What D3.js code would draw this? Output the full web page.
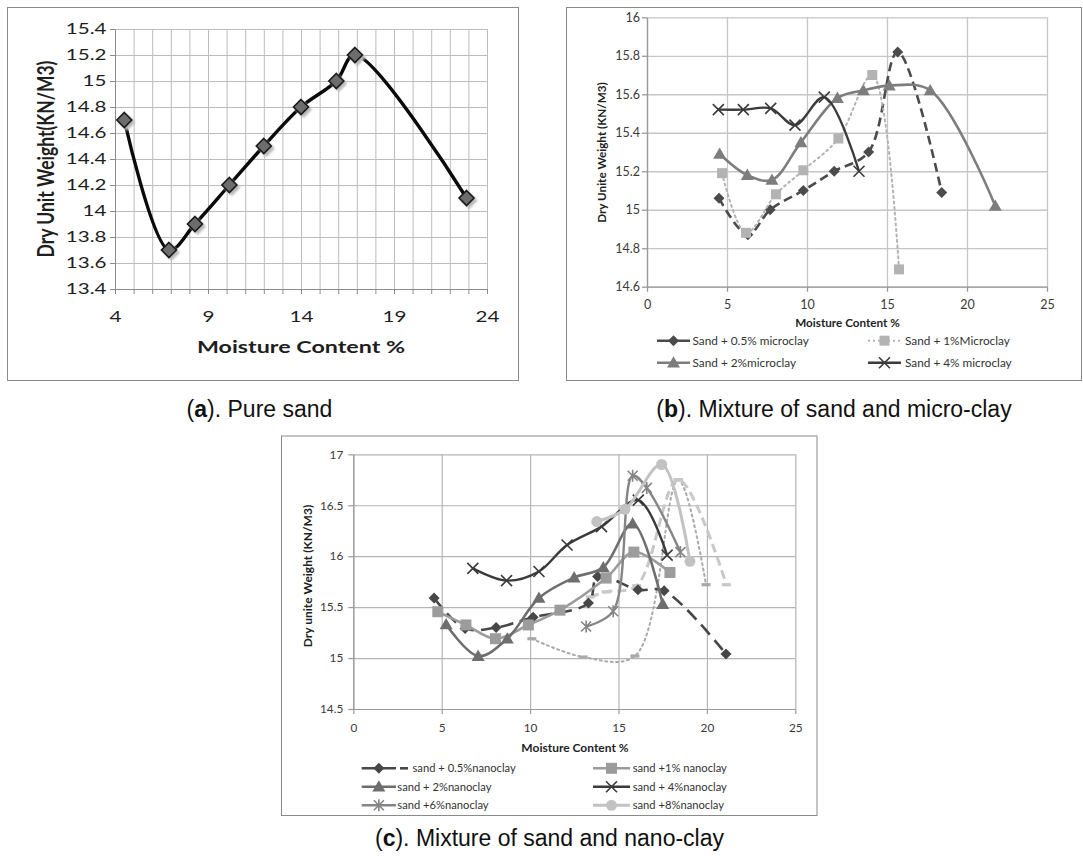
<!DOCTYPE html>
<html>
<head>
<meta charset="utf-8">
<script src="https://cdn.jsdelivr.net/npm/d3@7"></script>
<style>
body { margin: 0; background: #fff; }
text { font-family: Lato, "Open Sans", sans-serif; }
</style>
</head>
<body>
<div id="fig"></div>
<script>
// ---------- data ----------
// (a) pure sand
var pureSand = [[4.5,14.7],[6.9,13.7],[8.3,13.9],[10.15,14.2],[12,14.5],[14,14.8],[15.9,15.0],[16.9,15.2],[22.9,14.1]];
var pureXTicks = [4, 9, 14, 19, 24];
var pureYTicks = [13.4, 13.6, 13.8, 14, 14.2, 14.4, 14.6, 14.8, 15, 15.2, 15.4];

// (b) sand + micro-clay
var microLabels = ["Sand + 0.5% microclay", "Sand + 1%Microclay", "Sand + 2%microclay", "Sand + 4% microclay"];
var micro05 = [[4.5,15.06],[6.3,14.87],[7.7,15.0],[9.77,15.1],[11.7,15.2],[13.85,15.3],[15.67,15.82],[18.42,15.09]];
var micro1  = [[4.69,15.19],[6.19,14.88],[8.06,15.08],[9.77,15.205],[11.96,15.37],[14.08,15.7],[15.75,14.69]];
var micro2  = [[4.54,15.29],[6.27,15.18],[7.81,15.155],[9.62,15.35],[11.9,15.58],[13.52,15.62],[15.14,15.645],[17.7,15.62],[21.77,15.02]];
var micro4  = [[4.46,15.52],[6.02,15.52],[7.73,15.527],[9.25,15.44],[11.08,15.585],[13.25,15.2]];
var microXTicks = [0, 5, 10, 15, 20, 25];
var microYTicks = [14.6, 14.8, 15, 15.2, 15.4, 15.6, 15.8, 16];

// (c) sand + nano-clay
var nanoLabels = ["sand + 0.5%nanoclay", "sand +1% nanoclay", "sand + 2%nanoclay", "sand + 4%nanoclay", "sand +6%nanoclay", "sand +8%nanoclay"];
var nano05 = [[4.57,15.59],[6.32,15.29],[8.08,15.3],[10.17,15.4],[13.3,15.54],[13.82,15.8],[16.1,15.67],[17.58,15.66],[21.08,15.04]];
var nano1  = [[4.78,15.455],[6.37,15.325],[8.04,15.19],[9.9,15.325],[11.69,15.47],[14.3,15.785],[15.87,16.04],[17.91,15.84]];
var nano2  = [[5.25,15.33],[7.06,15.02],[8.71,15.19],[10.5,15.59],[12.49,15.79],[14.14,15.89],[15.8,16.32],[17.5,15.53]];
var nano4  = [[6.76,15.88],[8.67,15.76],[10.5,15.85],[12.09,16.11],[14.04,16.29],[16.12,16.55],[17.75,16.01]];
var nano6  = [[13.17,15.31],[14.7,15.46],[15.8,16.79],[16.6,16.67],[18.5,16.04]];
var nano8  = [[13.77,16.34],[15.37,16.46],[17.44,16.9],[19.04,15.95]];
var nanoDotted = [[10.1,15.19],[13.0,15.01],[15.93,15.02],[18.38,16.75],[19.95,15.72]];
var nanoDashed = [[13.4,15.6],[14.3,15.65],[16.03,15.71],[18.38,16.75],[21.1,15.72]];
var nanoXTicks = [0, 5, 10, 15, 20, 25];
var nanoYTicks = [14.5, 15, 15.5, 16, 16.5, 17];

var captions = [
	{bold: "a", rest: "). Pure sand", x: 259.5, y: 417},
	{bold: "b", rest: "). Mixture of sand and micro-clay", x: 834, y: 417},
	{bold: "c", rest: "). Mixture of sand and nano-clay", x: 549.5, y: 846}
];

// ---------- drawing ----------
var svg = d3.select("#fig").append("svg")
	.attr("width", 1083)
	.attr("height", 857);

var defs = svg.append("defs");
defs.append("filter").attr("id", "soft")
	.attr("x", "-50%").attr("y", "-50%").attr("width", "200%").attr("height", "200%")
	.append("feGaussianBlur").attr("stdDeviation", 1.3);

// marker shapes, s = half size
function markerPath(type, s) {
	if (type == "diamond") return "M0," + (-s) + "L" + s + ",0L0," + s + "L" + (-s) + ",0Z";
	if (type == "square") return "M" + (-s) + "," + (-s) + "h" + 2*s + "v" + 2*s + "h" + (-2*s) + "Z";
	if (type == "triangle") return "M0," + (-s) + "L" + s + "," + (s*0.75) + "L" + (-s) + "," + (s*0.75) + "Z";
	if (type == "circle") return d3.symbol(d3.symbolCircle, Math.PI*s*s)();
	if (type == "x") return "M" + (-s) + "," + (-s) + "L" + s + "," + s + "M" + (-s) + "," + s + "L" + s + "," + (-s);
	if (type == "star") return "M" + (-s) + "," + (-s) + "L" + s + "," + s + "M" + (-s) + "," + s + "L" + s + "," + (-s) + "M0," + (-s*1.2) + "L0," + (s*1.2);
	if (type == "dash") return "M" + (-s) + ",-1.6h" + 2*s + "v3.2h" + (-2*s) + "Z";
	return "";
}

function drawMarker(g, s, px, py) {
	var open = (s.marker == "x" || s.marker == "star");
	if (s.shadow) {
		g.append("path")
			.attr("d", markerPath(s.marker, s.msize + 1))
			.attr("transform", "translate(" + (px + 2.5) + "," + (py + 2.5) + ")")
			.attr("fill", "#b8b8b8")
			.attr("filter", "url(#soft)");
	}
	g.append("path")
		.attr("d", markerPath(s.marker, s.msize))
		.attr("transform", "translate(" + px + "," + py + ")")
		.attr("fill", open ? "none" : (s.mfill || s.color))
		.attr("stroke", open ? (s.mstroke || s.color) : (s.mstroke || "none"))
		.attr("stroke-width", open ? 1.6 : (s.mstrokeWidth || 1));
}

function drawPanel(p) {
	var g = svg.append("g");
	var sx = p.sx || 1;

	g.append("rect")
		.attr("x", p.box[0] + 0.5).attr("y", p.box[1] + 0.5)
		.attr("width", p.box[2] - p.box[0]).attr("height", p.box[3] - p.box[1])
		.attr("fill", "#fff").attr("stroke", "#8a8a8a");

	var x = d3.scaleLinear().domain(p.xDomain).range(p.xRange);
	var y = d3.scaleLinear().domain(p.yDomain).range(p.yRange);
	var w = p.xRange[1] - p.xRange[0];
	var h = p.yRange[0] - p.yRange[1];
	var fmt = d3.format("~g");

	// grid lines
	g.append("g")
		.attr("transform", "translate(0," + p.yRange[0] + ")")
		.call(d3.axisBottom(x).tickValues(p.xGrid).tickSize(-h).tickFormat(""))
		.call(function(a) {
			a.select(".domain").remove();
			a.selectAll("line").attr("stroke", p.gridColor).attr("stroke-width", p.gridWidth);
		});
	g.append("g")
		.attr("transform", "translate(" + p.xRange[0] + ",0)")
		.call(d3.axisLeft(y).tickValues(p.yTicks).tickSize(-w).tickFormat(""))
		.call(function(a) {
			a.select(".domain").remove();
			a.selectAll("line").attr("stroke", p.gridColor).attr("stroke-width", p.gridWidth);
		});

	// axes
	var xAxis = g.append("g")
		.attr("transform", "translate(0," + p.yRange[0] + ")")
		.call(d3.axisBottom(x).tickValues(p.xTickMarks).tickSize(5).tickSizeOuter(0)
			.tickPadding(p.xPad)
			.tickFormat(function(d) { return p.xTicks.indexOf(d) >= 0 ? fmt(d) : ""; }));
	var yAxis = g.append("g")
		.attr("transform", "translate(" + p.xRange[0] + ",0)")
		.call(d3.axisLeft(y).tickValues(p.yTicks).tickSize(5).tickSizeOuter(0)
			.tickPadding(p.yPad).tickFormat(fmt));
	[xAxis, yAxis].forEach(function(a) {
		a.attr("font-family", "Lato, sans-serif").attr("font-size", p.tickFont);
		a.select(".domain").attr("stroke", p.axisColor).attr("stroke-width", p.gridWidth);
		a.selectAll("line").attr("stroke", p.axisColor).attr("stroke-width", p.gridWidth);
		a.selectAll("text").attr("fill", p.textColor).attr("transform", "scale(" + sx + ",1)");
	});
	yAxis.selectAll("text").attr("x", -(5 + p.yPad) / sx);

	// axis titles
	g.append("text")
		.attr("transform", "translate(" + p.xTitle[0] + "," + p.xTitle[1] + ") scale(" + sx + ",1)")
		.attr("text-anchor", "middle").attr("dy", "0.35em")
		.attr("font-weight", "bold").attr("font-size", p.titleFont)
		.attr("fill", p.titleColor)
		.text(p.xLabel);
	g.append("text")
		.attr("transform", "translate(" + p.yTitle[0] + "," + p.yTitle[1] + ") scale(" + sx + ",1) rotate(-90)")
		.attr("text-anchor", "middle").attr("dy", "0.35em")
		.attr("font-weight", "bold").attr("font-size", p.titleFont)
		.attr("fill", p.titleColor)
		.text(p.yLabel);

	// series
	var line = d3.line()
		.x(function(d) { return x(d[0]); })
		.y(function(d) { return y(d[1]); })
		.curve(d3.curveCatmullRom.alpha(0.5));

	p.series.forEach(function(s) {
		var sg = g.append("g");
		sg.append("path")
			.attr("d", line(s.data))
			.attr("fill", "none")
			.attr("stroke", s.color)
			.attr("stroke-width", s.width)
			.attr("stroke-dasharray", s.dash || null)
			.attr("stroke-linecap", s.dash && s.dash.charAt(0) == "2" ? "round" : "butt");
		s.data.forEach(function(d) { drawMarker(sg, s, x(d[0]), y(d[1])); });
	});

	// legend
	if (p.legend) {
		var lg = g.append("g").attr("font-size", p.legendFont).attr("fill", "#333");
		p.legend.forEach(function(it) {
			var s = it.series;
			lg.append("line")
				.attr("x1", it.x1).attr("x2", it.x2).attr("y1", it.y).attr("y2", it.y)
				.attr("stroke", s.color).attr("stroke-width", s.width)
				.attr("stroke-dasharray", s.legendDash || null);
			drawMarker(lg, s, (it.x1 + it.x2) / 2, it.y);
			if (it.extraDash) {
				lg.append("line")
					.attr("x1", it.extraDash[0]).attr("x2", it.extraDash[1]).attr("y1", it.y).attr("y2", it.y)
					.attr("stroke", s.color).attr("stroke-width", s.width);
			}
			lg.append("text")
				.attr("x", it.tx).attr("y", it.y).attr("dy", "0.35em")
				.text(it.label);
		});
	}
}

// ---------- panel (a) ----------
drawPanel({
	box: [7, 7, 518, 380],
	xDomain: [4, 24], xRange: [115, 487],
	yDomain: [13.4, 15.4], yRange: [289, 29],
	xGrid: d3.range(4, 25), xTickMarks: d3.range(4, 25), xTicks: pureXTicks,
	yTicks: pureYTicks,
	gridColor: "#bcbcbc", gridWidth: 1, axisColor: "#8c8c8c",
	tickFont: 15.5, textColor: "#1e1e1e", xPad: 17, yPad: 3.5, sx: 1.33,
	titleFont: 17.5, titleColor: "#1e1e1e",
	xLabel: "Moisture Content %", xTitle: [301, 346.5],
	yLabel: "Dry Unit Weight(KN/M3)", yTitle: [46, 159],
	series: [
		{data: pureSand, color: "#0a0a0a", width: 3.4, marker: "diamond", msize: 7.5,
			mfill: "#6d6d6d", mstroke: "#1a1a1a", mstrokeWidth: 1.6, shadow: true}
	]
});

// ---------- panel (b) ----------
var bSeries = [
	{data: micro05, color: "#4b4b4b", width: 2.6, dash: "9,5", marker: "diamond", msize: 5.5},
	{data: micro1, color: "#b3b3b3", width: 2, dash: "2,3.5", legendDash: "2,3", marker: "square", msize: 5},
	{data: micro2, color: "#7d7d7d", width: 2.6, marker: "triangle", msize: 6.5},
	{data: micro4, color: "#3b3b3b", width: 2.4, marker: "x", msize: 5.5}
];
drawPanel({
	box: [566, 7, 1081, 380],
	xDomain: [0, 25], xRange: [647, 1047],
	yDomain: [14.6, 16], yRange: [286.7, 17.3],
	xGrid: microXTicks, xTickMarks: microXTicks, xTicks: microXTicks,
	yTicks: microYTicks,
	gridColor: "#c6c6c6", gridWidth: 1.3, axisColor: "#9a9a9a",
	tickFont: 12.5, textColor: "#3a3a3a", xPad: 8.5, yPad: 2,
	titleFont: 11.7, titleColor: "#1e1e1e",
	xLabel: "Moisture Content %", xTitle: [847.5, 322.7],
	yLabel: "Dry Unite Weight (KN/M3)", yTitle: [602, 152.5],
	legendFont: 11.8,
	series: bSeries,
	legend: [
		{series: bSeries[0], label: microLabels[0], x1: 657, x2: 690, y: 340.7, tx: 692.5},
		{series: bSeries[1], label: microLabels[1], x1: 868, x2: 901, y: 340.7, tx: 905},
		{series: bSeries[2], label: microLabels[2], x1: 657, x2: 690, y: 362.7, tx: 692.5},
		{series: bSeries[3], label: microLabels[3], x1: 868, x2: 901, y: 362.7, tx: 905}
	]
});

// ---------- panel (c) ----------
var cSeries = [
	{data: nanoDotted, color: "#a9a9a9", width: 2, dash: "2,3.5", marker: "dash", msize: 4.5},
	{data: nanoDashed, color: "#c8c8c8", width: 3, dash: "9,5", marker: "dash", msize: 4.5},
	{data: nano05, color: "#474747", width: 2.6, dash: "13,7", marker: "diamond", msize: 5.5},
	{data: nano1, color: "#9c9c9c", width: 2.6, marker: "square", msize: 5.5},
	{data: nano2, color: "#6e6e6e", width: 2.6, marker: "triangle", msize: 6.5},
	{data: nano4, color: "#3a3a3a", width: 2.4, marker: "x", msize: 5.5},
	{data: nano6, color: "#858585", width: 2.4, marker: "star", msize: 5},
	{data: nano8, color: "#c2c2c2", width: 3, marker: "circle", msize: 5.5}
];
drawPanel({
	box: [281, 435.5, 816.5, 815],
	xDomain: [0, 25], xRange: [353.3, 795.3],
	yDomain: [14.5, 17], yRange: [709, 454.3],
	xGrid: nanoXTicks, xTickMarks: nanoXTicks, xTicks: nanoXTicks,
	yTicks: nanoYTicks,
	gridColor: "#b5b5b5", gridWidth: 1.2, axisColor: "#9a9a9a",
	tickFont: 11.8, textColor: "#3a3a3a", xPad: 9.5, yPad: 5,
	titleFont: 12, titleColor: "#1e1e1e",
	xLabel: "Moisture Content %", xTitle: [575, 748],
	yLabel: "Dry unite Weight (KN/M3)", yTitle: [308, 576],
	legendFont: 11.2,
	series: cSeries,
	legend: [
		{series: cSeries[2], label: nanoLabels[0], x1: 361.7, x2: 396, y: 768.3, tx: 412.5, extraDash: [400, 408]},
		{series: cSeries[3], label: nanoLabels[1], x1: 593, x2: 630, y: 768.3, tx: 632.7},
		{series: cSeries[4], label: nanoLabels[2], x1: 361.7, x2: 396, y: 786.7, tx: 397.3},
		{series: cSeries[5], label: nanoLabels[3], x1: 593, x2: 630, y: 786.7, tx: 632.7},
		{series: cSeries[6], label: nanoLabels[4], x1: 361.7, x2: 396, y: 805.3, tx: 397.3},
		{series: cSeries[7], label: nanoLabels[5], x1: 593, x2: 630, y: 805.3, tx: 632.7}
	]
});

// ---------- captions ----------
captions.forEach(function(c) {
	var t = svg.append("text")
		.attr("x", c.x).attr("y", c.y)
		.attr("text-anchor", "middle")
		.attr("font-size", 23)
		.attr("fill", "#111")
		.style("font-family", "'Liberation Sans', Arial, sans-serif");
	t.append("tspan").text("(");
	t.append("tspan").attr("font-weight", "bold").text(c.bold);
	t.append("tspan").text(c.rest);
});
</script>
</body>
</html>
